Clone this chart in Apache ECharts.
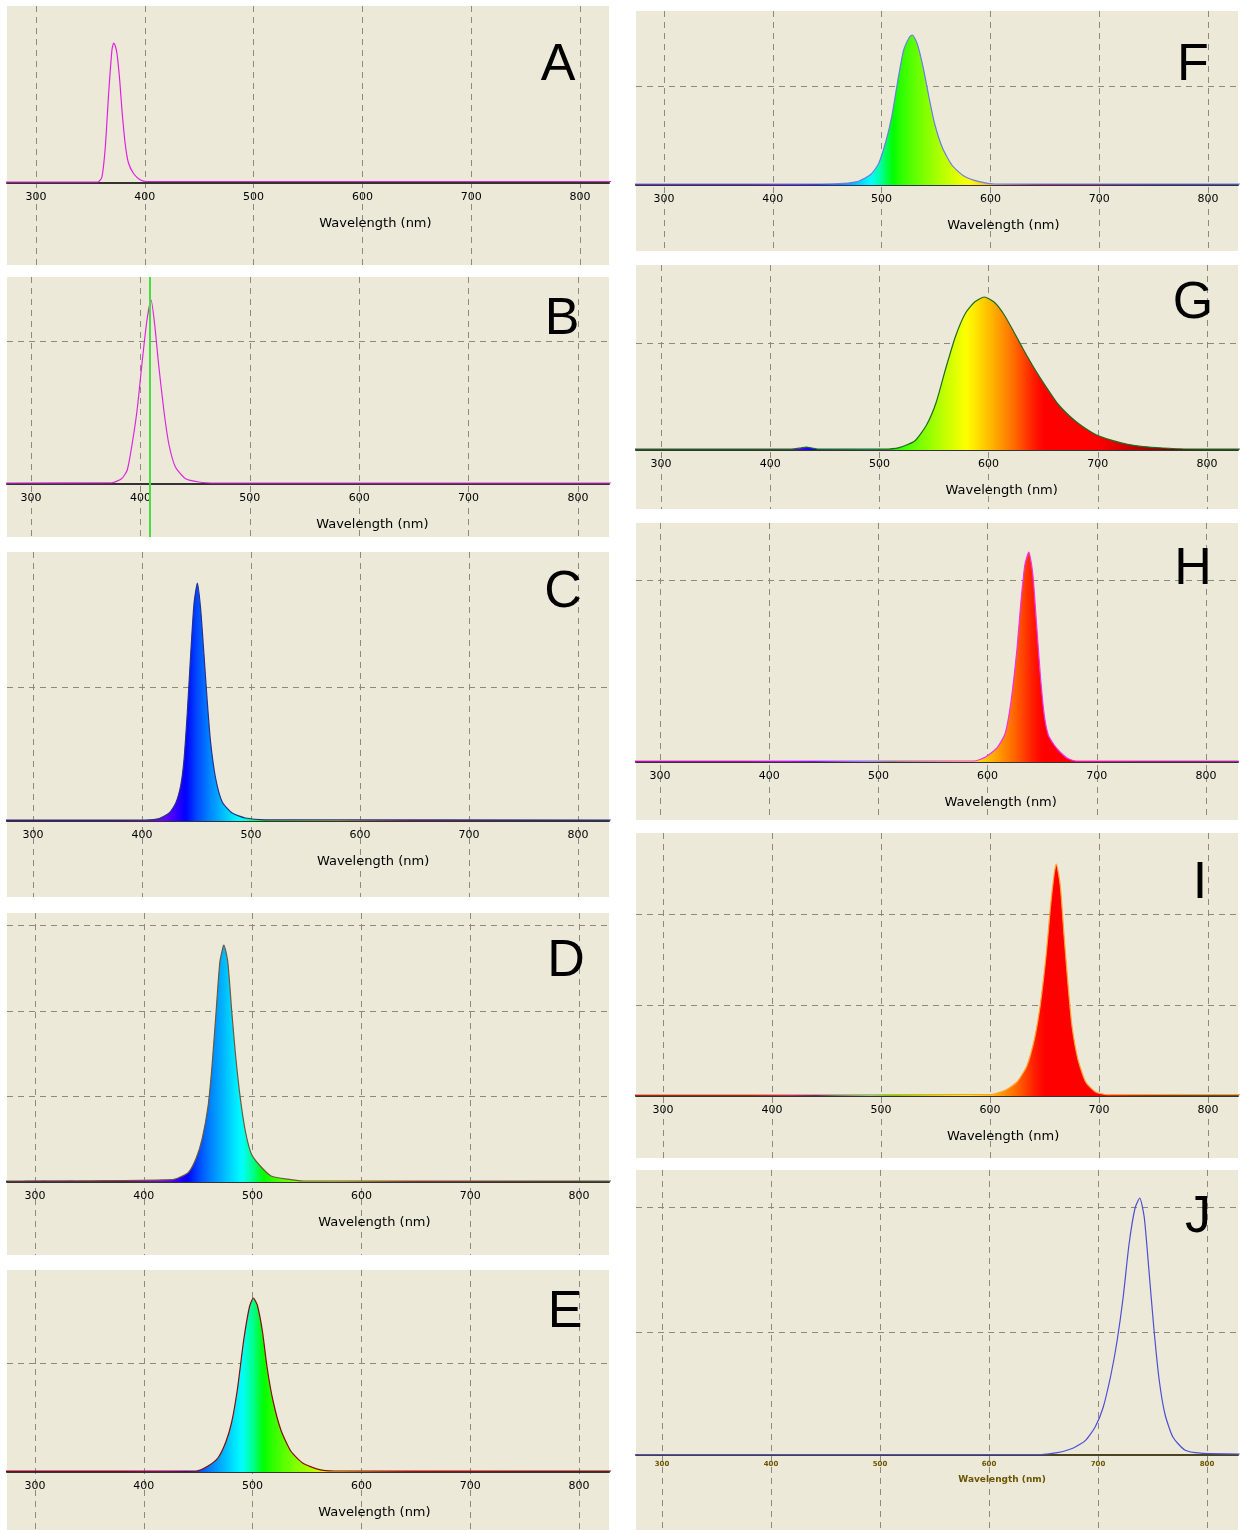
<!DOCTYPE html>
<html>
<head>
<meta charset="utf-8">
<title>LED emission spectra</title>
<script src="https://cdn.jsdelivr.net/npm/echarts@6.0.0/dist/echarts.min.js"></script>
<style>
    html, body { margin: 0; padding: 0; background: #fff; }
    #main { width: 1244px; height: 1530px; }
</style>
</head>
<body>
<div id="main"></div>
<script>
// tick labels shared by every wavelength axis
var wavelengthTicks = [300, 400, 500, 600, 700, 800];
var axisTitle = 'Wavelength (nm)';
var panelNames = ['A', 'B', 'C', 'D', 'E', 'F', 'G', 'H', 'I', 'J'];

// spectra: [wavelength nm, height above baseline]
var spectrumA = [[270, 1], [357, 1], [360.6, 6], [363.7, 36], [366.8, 90], [369.8, 133], [371.4, 140], [372.9, 137], [374.5, 129], [377, 102], [379, 73], [382, 39], [385, 20], [390, 9], [396, 3], [402, 1.5], [830, 1.5]];
var spectrumB = [[270, 1], [374, 1.3], [383, 5.5], [388, 14], [392, 37], [397, 74], [401.5, 121], [406, 164], [409.8, 184], [413, 160], [416.8, 118], [421.4, 74], [426, 40], [432, 17], [441, 5.5], [453.5, 2], [469, 1], [830, 1]];
var spectrumC = [[270, 1], [403.6, 1], [415.8, 2.4], [425, 8], [431, 18], [435.6, 36], [438.6, 62], [441.6, 109], [444.7, 167], [447.7, 217], [450.8, 238], [453.8, 212], [456.8, 167], [459.9, 119], [462.9, 79], [467.5, 43], [473.6, 19], [482.7, 8], [494.8, 3], [513, 1.2], [830, 1]];
var spectrumD = [[270, 1], [426.4, 2.4], [440.9, 9.5], [448.2, 24], [453.6, 43], [459.1, 76], [462.7, 116], [466.3, 168], [469.9, 220], [472.8, 235], [473.6, 237], [477.2, 220], [480.8, 171], [484.4, 126], [488.8, 83], [493.5, 50], [498.9, 28], [506.2, 17], [517, 6], [535, 2.4], [546, 1], [830, 1]];
var spectrumE = [[270, 1], [448.2, 1], [459, 6], [468.1, 14], [475.4, 30], [480.8, 50], [486.2, 84], [491.7, 131], [497.1, 165], [500.7, 174], [504.3, 167], [509, 141], [513.4, 104], [518.8, 71], [526, 42], [535.1, 21], [546, 9], [560.5, 2.6], [575, 1], [830, 1]];
var spectrumF = [[270, 1], [443.7, 1], [465, 1.6], [479.3, 4], [490, 10.5], [497.1, 21], [504.3, 45], [509.6, 70], [515, 105], [520.3, 135], [525.7, 148], [528.2, 150], [532.8, 141], [538.1, 118], [543.5, 88], [548.8, 61], [556, 37], [564.9, 19.5], [575.6, 9], [589.8, 3.3], [604, 1], [830, 1]];
var spectrumG = [[270, 0.8], [418.8, 0.8], [427.7, 2], [433, 3], [438.3, 2], [443.6, 0.8], [503.9, 0.8], [518.1, 2.3], [532.3, 9], [542.9, 24.5], [551.8, 47], [560.6, 81], [569.5, 113], [578.4, 136], [587.2, 148], [596.1, 153], [605, 148], [613.8, 136], [622.7, 119], [631.6, 101], [642.2, 81], [652.8, 63], [663.5, 46], [674.1, 34], [684.8, 24.5], [698.9, 15], [713.1, 9.6], [727.3, 5.7], [741.5, 3.4], [759.2, 2], [780.5, 1], [808.9, 0.8], [830, 0.8]];
var spectrumH = [[270, 1], [587.4, 1], [598.2, 5], [609, 14.7], [616.2, 29], [621.5, 61], [626.9, 113], [630.5, 160], [634.1, 197], [637.7, 210], [641.3, 189], [644.9, 137], [648.5, 84], [652, 46], [655.6, 27], [661, 17], [666.4, 10], [673.6, 3.4], [680.8, 1], [830, 1]];
var spectrumI = [[270, 1.4], [599.6, 1.4], [614, 5.6], [624.8, 14], [633.8, 30], [641, 58], [646.4, 93], [651.8, 144], [655.4, 188], [659, 223], [660.8, 232], [664.4, 211], [668, 160], [671.6, 111], [675.2, 70], [680.6, 37], [687.8, 14], [696.8, 4], [707.6, 1.4], [830, 1.4]];
var spectrumJ = [[270, 0.5], [648.1, 0.5], [662.7, 2.3], [677.4, 7], [688.3, 14.4], [697.4, 28], [704.7, 47.5], [712, 81], [717.5, 114], [723, 157], [728.5, 211], [734, 247], [738.3, 257], [742.4, 238], [746.7, 185], [751.1, 128.5], [755.9, 77], [761.4, 41], [768.7, 18], [779.6, 5], [794.2, 1.8], [830, 1]];

// horizontal dashed grid lines, height above baseline
var gridLinesA = [];
var gridLinesB = [143];
var gridLinesC = [134];
var gridLinesD = [86, 171, 257];
var gridLinesE = [109];
var gridLinesF = [99];
var gridLinesG = [107];
var gridLinesH = [182];
var gridLinesI = [91, 182];
var gridLinesJ = [123, 248];

// green marker line in panel B (nm)
var markerB = 409;

var spectra = [spectrumA, spectrumB, spectrumC, spectrumD, spectrumE, spectrumF, spectrumG, spectrumH, spectrumI, spectrumJ];
var gridLines = [gridLinesA, gridLinesB, gridLinesC, gridLinesD, gridLinesE, gridLinesF, gridLinesG, gridLinesH, gridLinesI, gridLinesJ];

// panel boxes (px): edges, where 300 / 800 nm fall, baseline, letter centre
var layout = [
    {left: 7, right: 609, top: 6, bottom: 265, x300: 36, x800: 580, base: 183, lx: 558, ly: 64},
    {left: 7, right: 609, top: 277, bottom: 537, x300: 31, x800: 578, base: 484, lx: 562, ly: 318},
    {left: 7, right: 609, top: 552, bottom: 897, x300: 33, x800: 578, base: 821, lx: 563, ly: 591},
    {left: 7, right: 609, top: 913, bottom: 1255, x300: 35, x800: 579, base: 1182, lx: 566, ly: 960},
    {left: 7, right: 609, top: 1270, bottom: 1530, x300: 35, x800: 579, base: 1472, lx: 565, ly: 1311},
    {left: 636, right: 1238, top: 11, bottom: 251, x300: 664, x800: 1208, base: 185, lx: 1193, ly: 64},
    {left: 636, right: 1238, top: 265, bottom: 509, x300: 661, x800: 1207, base: 450, lx: 1193, ly: 302},
    {left: 636, right: 1238, top: 523, bottom: 820, x300: 660, x800: 1206, base: 762, lx: 1193, ly: 568},
    {left: 636, right: 1238, top: 833, bottom: 1158, x300: 663, x800: 1208, base: 1096, lx: 1200, ly: 882},
    {left: 636, right: 1238, top: 1170, bottom: 1530, x300: 662, x800: 1207, base: 1455, lx: 1198, ly: 1216}
];

// per panel look
var looks = [
    {line: '#e020e0', fill: false, axis: '#333333', text: '#000000', small: false},
    {line: '#d92ad9', fill: false, axis: '#333333', text: '#000000', small: false},
    {line: '#27308a', fill: true, axis: '#333333', text: '#000000', small: false},
    {line: '#6b5a3a', fill: true, axis: '#333333', text: '#000000', small: false},
    {line: '#8b0a0a', fill: true, axis: '#333333', text: '#000000', small: false},
    {line: '#6a7fe0', fill: true, axis: '#30305a', text: '#000000', small: false},
    {line: '#1f6b1f', fill: true, axis: '#333333', text: '#000000', small: false},
    {line: '#f030f0', fill: true, axis: '#333333', text: '#000000', small: false},
    {line: '#ffa030', fill: true, axis: '#333333', text: '#000000', small: false},
    {line: '#4d4dd6', fill: false, axis: '#4a4420', text: '#6b5500', small: true}
];

var dashStyle = {type: [6, 5], color: '#8c8a80', width: 1};

// wavelength -> visible colour (used for the spectral fill)
function spectralColor(w) {
    var r = 0, g = 0, b = 0;
    var v = Math.max(380, Math.min(780, w));
    if (v < 440) { r = (440 - v) / 60; b = 1; }
    else if (v < 490) { g = (v - 440) / 50; b = 1; }
    else if (v < 510) { g = 1; b = (510 - v) / 20; }
    else if (v < 580) { r = (v - 510) / 70; g = 1; }
    else if (v < 645) { r = 1; g = (645 - v) / 65; }
    else { r = 1; }
    var f = 1;
    if (v < 420) f = 0.3 + 0.7 * (v - 380) / 40;
    else if (v > 700) f = 0.3 + 0.7 * (780 - v) / 80;
    function c(x) { return Math.round(255 * Math.pow(x * f, 0.8)); }
    return 'rgb(' + c(r) + ',' + c(g) + ',' + c(b) + ')';
}
var spectrumColors = [];
for (var w = 270; w <= 830; w += 10) {
    spectrumColors.push(spectralColor(w));
}

var chart = echarts.init(document.getElementById('main'));
var grids = [], xAxes = [], yAxes = [], series = [], visualMaps = [], graphics = [];

layout.forEach(function (p, i) {
    var look = looks[i];
    var k = (p.x800 - p.x300) / 500;
    var xMin = 300 - (p.x300 - p.left) / k;
    var xMax = 800 + (p.right - p.x800) / k;
    var nameShift = (612 - (xMin + xMax) / 2) * k;

    grids.push({
        left: p.left, top: p.top,
        width: p.right - p.left, height: p.bottom - p.top,
        show: true, backgroundColor: '#ECE9D8', borderWidth: 0
    });
    // axis lifted from the panel bottom up to the baseline
    xAxes.push({
        gridIndex: i, type: 'value', min: xMin, max: xMax,
        position: 'bottom',
        offset: p.base - p.bottom,
        axisLine: {onZero: false, lineStyle: {color: look.axis, width: 2}},
        axisTick: {show: false, customValues: wavelengthTicks},
        splitLine: {show: true, lineStyle: dashStyle},
        axisLabel: {
            customValues: wavelengthTicks,
            margin: look.small ? 6 : 9,
            fontSize: look.small ? 7 : 11,
            fontWeight: look.small ? 'bold' : 'normal',
            fontFamily: 'DejaVu Sans',
            color: look.text
        },
        name: axisTitle,
        nameLocation: 'middle',
        nameGap: look.small ? 20 : 34,
        nameTextStyle: {
            fontSize: look.small ? 9 : 13,
            fontWeight: look.small ? 'bold' : 'normal',
            fontFamily: 'DejaVu Sans',
            color: look.text,
            padding: [0, 0, 0, 2 * nameShift]
        }
    });
    yAxes.push({
        gridIndex: i, type: 'value',
        min: p.base - p.bottom, max: p.base - p.top,
        axisLine: {show: false},
        axisTick: {show: false, customValues: gridLines[i]},
        axisLabel: {show: false, customValues: gridLines[i]},
        splitLine: {show: gridLines[i].length > 0, lineStyle: dashStyle}
    });

    var s = {
        name: panelNames[i],
        type: 'line',
        xAxisIndex: i, yAxisIndex: i,
        data: spectra[i],
        symbol: 'none',
        smooth: 0.2,
        z: 3,
        lineStyle: {color: look.line, width: 1.2}
    };
    if (i === 1) {
        s.markLine = {
            silent: true,
            symbol: 'none',
            label: {show: false},
            lineStyle: {color: '#44dd44', type: 'solid', width: 2},
            data: [{xAxis: markerB}]
        };
    }
    if (look.fill) {
        s.areaStyle = {opacity: 1};
        visualMaps.push({
            type: 'continuous', show: false,
            seriesIndex: i, dimension: 0,
            min: 270, max: 830,
            inRange: {color: spectrumColors}
        });
    }
    series.push(s);

    graphics.push({
        type: 'text', x: p.lx, y: p.ly + 2, z: 10,
        style: {
            text: panelNames[i],
            font: '52px "Liberation Sans", Arial, sans-serif',
            fill: '#000',
            textAlign: 'center', textVerticalAlign: 'middle',
            align: 'center', verticalAlign: 'middle'
        }
    });
});

chart.setOption({
    animation: false,
    backgroundColor: '#ffffff',
    grid: grids,
    xAxis: xAxes,
    yAxis: yAxes,
    visualMap: visualMaps,
    series: series,
    graphic: {elements: graphics}
});
</script>
</body>
</html>
